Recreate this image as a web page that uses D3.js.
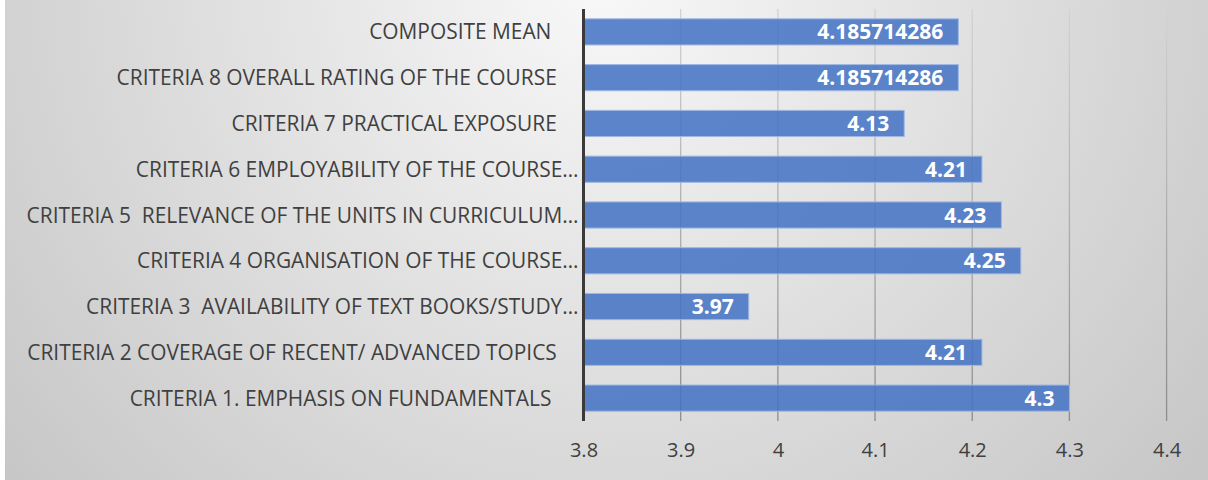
<!DOCTYPE html>
<html>
<head>
<meta charset="utf-8">
<script src="https://cdn.jsdelivr.net/npm/d3@7"></script>
<style>
  body { margin: 0; background: #fff; }
  text { white-space: pre; }
</style>
</head>
<body>
<div id="wrapper"></div>
<script>
// data, top row first
const categories = [
  'COMPOSITE MEAN     ',
  'CRITERIA 8 OVERALL RATING OF THE COURSE    ',
  'CRITERIA 7 PRACTICAL EXPOSURE    ',
  'CRITERIA 6 EMPLOYABILITY OF THE COURSE…',
  'CRITERIA 5  RELEVANCE OF THE UNITS IN CURRICULUM…',
  'CRITERIA 4 ORGANISATION OF THE COURSE…',
  'CRITERIA 3  AVAILABILITY OF TEXT BOOKS/STUDY…',
  'CRITERIA 2 COVERAGE OF RECENT/ ADVANCED TOPICS    ',
  'CRITERIA 1. EMPHASIS ON FUNDAMENTALS     ',
]
const values = [4.185714286, 4.185714286, 4.13, 4.21, 4.23, 4.25, 3.97, 4.21, 4.3]
const valueLabels = ['4.185714286', '4.185714286', '4.13', '4.21', '4.23', '4.25', '3.97', '4.21', '4.3']
const xTicks = [3.8, 3.9, 4.0, 4.1, 4.2, 4.3, 4.4]

const dimensions = {
  width: 1208,
  height: 480,
  plotLeft: 583.5,
  plotRight: 1166.6,
  plotTop: 9,
  plotBottom: 421,
}

const svg = d3
  .select('#wrapper')
  .append('svg')
  .attr('width', dimensions.width)
  .attr('height', dimensions.height)

const defs = svg.append('defs')
const bg = defs
  .append('radialGradient')
  .attr('id', 'bg-gradient')
  .attr('gradientUnits', 'userSpaceOnUse')
  .attr('cx', 600)
  .attr('cy', -20)
  .attr('r', 800)
bg.append('stop').attr('offset', '0%').attr('stop-color', '#f8f8f8')
bg.append('stop').attr('offset', '100%').attr('stop-color', '#c5c5c5')

const gridGrad = defs
  .append('linearGradient')
  .attr('id', 'grid-gradient')
  .attr('gradientUnits', 'userSpaceOnUse')
  .attr('x1', 0).attr('y1', dimensions.plotTop)
  .attr('x2', 0).attr('y2', dimensions.plotBottom)
gridGrad.append('stop').attr('offset', '0%').attr('stop-color', '#d2d2d2')
gridGrad.append('stop').attr('offset', '100%').attr('stop-color', '#8c8c8c')

// background
svg
  .append('rect')
  .attr('x', 5)
  .attr('y', 0)
  .attr('width', dimensions.width - 5)
  .attr('height', dimensions.height)
  .attr('fill', 'url(#bg-gradient)')

// scales
const xScale = d3
  .scaleLinear()
  .domain([3.8, 4.4])
  .range([dimensions.plotLeft, dimensions.plotRight])

const gap = 0.75 / 1.75
const yScale = d3
  .scaleBand()
  .domain(categories)
  .range([dimensions.plotTop, dimensions.plotBottom])
  .paddingInner(gap)
  .paddingOuter(gap / 2)

// gridlines
svg
  .append('g')
  .attr('class', 'grid')
  .selectAll('line')
  .data(xTicks.slice(1))
  .join('line')
  .attr('x1', (d) => xScale(d))
  .attr('x2', (d) => xScale(d))
  .attr('y1', dimensions.plotTop)
  .attr('y2', dimensions.plotBottom)
  .attr('stroke', 'url(#grid-gradient)')
  .attr('stroke-width', 1.3)

// x tick labels
const xAxisGenerator = d3
  .axisBottom(xScale)
  .tickValues(xTicks)
  .tickSize(0)
  .tickPadding(0)
  .tickFormat(d3.format('~g'))
const xAxis = svg
  .append('g')
  .attr('transform', `translate(0, ${dimensions.plotBottom + 22})`)
  .call(xAxisGenerator)
xAxis.select('.domain').remove()
xAxis
  .selectAll('text')
  .attr('fill', '#404040')
  .style('font-family', 'Open Sans')
  .style('font-size', '20px')

// bars
svg
  .append('g')
  .selectAll('rect')
  .data(values)
  .join('rect')
  .attr('x', xScale(3.8))
  .attr('y', (d, i) => yScale(categories[i]))
  .attr('width', (d) => xScale(d) - xScale(3.8))
  .attr('height', yScale.bandwidth())
  .attr('fill', '#4472c4')
  .attr('fill-opacity', 0.86)
  .attr('stroke', '#9fb8e2')
  .attr('stroke-width', 1)

// value labels
svg
  .append('g')
  .selectAll('text')
  .data(values)
  .join('text')
  .attr('x', (d) => xScale(d) - 15)
  .attr('y', (d, i) => yScale(categories[i]) + yScale.bandwidth() / 2)
  .attr('dy', '0.36em')
  .attr('text-anchor', 'end')
  .attr('fill', '#ffffff')
  .style('font-family', 'Open Sans')
  .style('font-weight', 'bold')
  .style('font-size', '21px')
  .text((d, i) => valueLabels[i])

// category axis
const yAxisGenerator = d3.axisLeft(yScale).tickSize(0).tickPadding(5)
const yAxis = svg
  .append('g')
  .attr('transform', `translate(${dimensions.plotLeft}, 0)`)
  .call(yAxisGenerator)
yAxis.select('.domain').remove()
yAxis
  .selectAll('text')
  .attr('fill', '#404040')
  .attr('dy', '0.36em')
  .style('font-family', 'Open Sans')
  .style('font-size', '20.9px')

svg
  .append('line')
  .attr('x1', dimensions.plotLeft)
  .attr('x2', dimensions.plotLeft)
  .attr('y1', dimensions.plotTop)
  .attr('y2', dimensions.plotBottom)
  .attr('stroke', '#3a3a3a')
  .attr('stroke-width', 3)
</script>
</body>
</html>
